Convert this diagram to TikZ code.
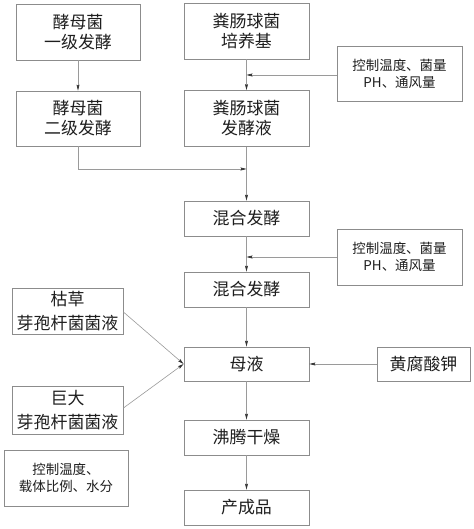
\documentclass[tikz,border=0pt]{standalone}
\usepackage{fontspec}
\setmainfont{Noto Sans CJK SC}
\usetikzlibrary{arrows.meta}
\definecolor{boxc}{HTML}{8C8C8C}
\definecolor{linec}{HTML}{9A9A9A}
\definecolor{txt}{HTML}{1E1E1E}
\begin{document}
\begin{tikzpicture}[x=1bp,y=-1bp,
  box/.style={draw=boxc,line width=0.8pt,inner sep=0pt,align=center,text=txt,
    font=\fontsize{17}{20}\selectfont},
  ctrl/.style={box,font=\fontsize{13.5}{17}\selectfont},
  conn/.style={draw=linec,line width=0.6pt,-{Stealth[length=6pt,width=3pt,inset=1pt,color=black!80]}},
  plain/.style={draw=linec,line width=0.6pt}]
\useasboundingbox (0,0) rectangle (474,529);
\fill[white] (0,0) rectangle (474,529);
% nodes
\node[box,minimum width=124bp,minimum height=56bp] (A) at (78,32) {酵母菌\\一级发酵};
\node[box,minimum width=124bp,minimum height=55bp] (B) at (78,118.5) {酵母菌\\二级发酵};
\node[box,minimum width=125bp,minimum height=56bp] (C) at (246.5,31) {粪肠球菌\\培养基};
\node[box,minimum width=125bp,minimum height=56bp] (D) at (246.5,118.5) {粪肠球菌\\发酵液};
\node[ctrl,minimum width=125bp,minimum height=55bp] (K1) at (399.5,73.5) {控制温度、菌量\\PH、通风量};
\node[box,minimum width=125bp,minimum height=35bp] (E) at (246.5,218.5) {混合发酵};
\node[ctrl,minimum width=125bp,minimum height=56bp] (K2) at (399.5,257) {控制温度、菌量\\PH、通风量};
\node[box,minimum width=125bp,minimum height=35bp] (F) at (246.5,289.5) {混合发酵};
\node[box,minimum width=111bp,minimum height=46bp,font=\fontsize{17}{24}\selectfont] (G) at (67.5,311) {枯草\\芽孢杆菌菌液};
\node[box,minimum width=125bp,minimum height=34bp] (H) at (246.5,364) {母液};
\node[box,minimum width=93bp,minimum height=34bp] (P) at (423.5,364) {黄腐酸钾};
\node[box,minimum width=111bp,minimum height=48bp,font=\fontsize{17}{24}\selectfont] (J) at (67.5,410) {巨大\\芽孢杆菌菌液};
\node[ctrl,minimum width=124bp,minimum height=56bp] (K3) at (66,478) {控制温度、\\载体比例、水分};
\node[box,minimum width=125bp,minimum height=35bp] (L) at (246.5,437.5) {沸腾干燥};
\node[box,minimum width=125bp,minimum height=35bp] (M) at (246.5,507.5) {产成品};
% junction coordinates
\coordinate (j1) at (246.5,75);
\coordinate (j2) at (246.5,169);
\coordinate (g1) at (G.east |- 0,312);
\coordinate (g2) at (J.east |- 0,408);
% connectors
\draw[conn] (A) -- (B);
\draw[conn] (C) -- (D);
\draw[conn] (j1 -| K1.west) -- (j1);
\draw[plain] (D) -- (j2);
\draw[conn] (D) -- (E);
\draw[conn] (B.south) |- (j2);
\draw[conn] (E) -- (F);
\draw[conn] (K2.west) -- (K2.west -| E.south);
\draw[conn] (F) -- (H);
\draw[conn] (g1) -- (H.west);
\draw[conn] (g2) -- (H.west);
\draw[conn] (P) -- (H);
\draw[conn] (H) -- (L);
\draw[conn] (L) -- (M);
\end{tikzpicture}
\end{document}
